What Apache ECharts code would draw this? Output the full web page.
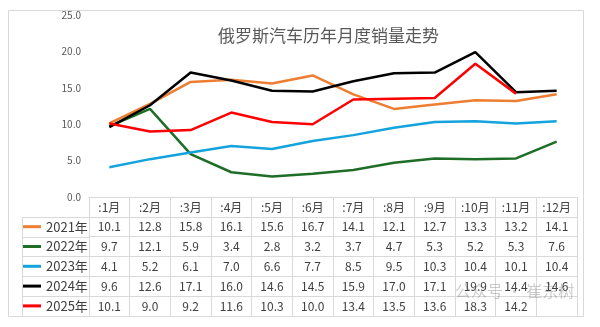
<!DOCTYPE html>
<html>
<head>
<meta charset="utf-8">
<script src="https://cdn.jsdelivr.net/npm/echarts@6/dist/echarts.min.js"></script>
<style>html,body{margin:0;padding:0;background:#fff}#c{width:600px;height:327px}</style>
</head>
<body>
<div id="c"></div>
<script>
var months = [':1月', ':2月', ':3月', ':4月', ':5月', ':6月', ':7月', ':8月', ':9月', ':10月', ':11月', ':12月'];
var seriesNames = ['2021年', '2022年', '2023年', '2024年', '2025年'];
var y2021 = [10.1, 12.8, 15.8, 16.1, 15.6, 16.7, 14.1, 12.1, 12.7, 13.3, 13.2, 14.1];
var y2022 = [9.7, 12.1, 5.9, 3.4, 2.8, 3.2, 3.7, 4.7, 5.3, 5.2, 5.3, 7.6];
var y2023 = [4.1, 5.2, 6.1, 7.0, 6.6, 7.7, 8.5, 9.5, 10.3, 10.4, 10.1, 10.4];
var y2024 = [9.6, 12.6, 17.1, 16.0, 14.6, 14.5, 15.9, 17.0, 17.1, 19.9, 14.4, 14.6];
var y2025 = [10.1, 9.0, 9.2, 11.6, 10.3, 10.0, 13.4, 13.5, 13.6, 18.3, 14.2, null];
var colors = ['#ED7D31', '#1E6E27', '#14A3DC', '#000000', '#FF0000'];
var allData = [y2021, y2022, y2023, y2024, y2025];

var gridLeft = 89, gridRight = 23, gridTop = 15, gridBottom = 130;
var axisY = 327 - gridBottom;
var rowH = 19.8;
var lineColor = '#d9d9d9';
var textColor = '#404040';
var font = '"Noto Sans CJK SC", "Noto Sans", sans-serif';

var chart = echarts.init(document.getElementById('c'), null, {renderer: 'canvas'});

var xAxes = [{
  type: 'category', data: months, gridIndex: 0, position: 'bottom',
  axisLine: {show: true, lineStyle: {color: lineColor, width: 1}},
  axisTick: {show: true, interval: 0, length: rowH * 6, lineStyle: {color: lineColor, width: 1}},
  axisLabel: {interval: 0, margin: 4, fontSize: 12, color: textColor, fontFamily: font}
}];
allData.forEach(function (arr, k) {
  xAxes.push({
    type: 'category', data: months, gridIndex: 0, position: 'bottom', offset: rowH * (k + 1),
    axisLine: {show: true, lineStyle: {color: lineColor, width: 1}},
    axisTick: {show: false},
    axisLabel: {interval: 0, margin: 4, fontSize: 12, color: textColor, fontFamily: font,
      formatter: function (v, i) { return arr[i] == null ? '' : arr[i].toFixed(1); }}
  });
});
xAxes.push({
  type: 'category', data: months, gridIndex: 0, position: 'bottom', offset: rowH * 6,
  axisLine: {show: true, lineStyle: {color: lineColor, width: 1}},
  axisTick: {show: false}, axisLabel: {show: false}
});

var legends = seriesNames.map(function (n, k) {
  return {
    data: [n], orient: 'horizontal', left: 23, top: axisY + rowH * (k + 1), padding: 0,
    icon: 'rect', itemWidth: 18, itemHeight: 3, selectedMode: false,
    textStyle: {fontSize: 13, color: textColor, fontFamily: font, lineHeight: rowH, height: rowH}
  };
});

var tableLeft = 22;
var graphics = [{
  type: 'rect', shape: {x: 8.5, y: 10.5, width: 575, height: 306},
  style: {fill: null, stroke: lineColor, lineWidth: 1}, silent: true, z: -1
}, {
  type: 'line', shape: {x1: tableLeft + 0.5, y1: axisY + rowH, x2: tableLeft + 0.5, y2: axisY + rowH * 6},
  style: {stroke: lineColor, lineWidth: 1}, silent: true
}];
for (var r = 1; r <= 6; r++) {
  var yy = Math.round(axisY + rowH * r) + 0.5;
  graphics.push({
    type: 'line', shape: {x1: tableLeft, y1: yy, x2: gridLeft, y2: yy},
    style: {stroke: lineColor, lineWidth: 1}, silent: true
  });
}
graphics.push({
  type: 'text', left: 455, top: 283,
  style: {text: '公众号 · 崔东树', fontSize: 16, fill: 'rgba(110,110,110,0.35)', fontFamily: font},
  silent: true, z: 100
});

chart.setOption({
  backgroundColor: '#ffffff',
  animation: false,
  color: colors,
  title: {
    text: '俄罗斯汽车历年月度销量走势', left: 213, top: 22,
    textStyle: {fontSize: 17, fontWeight: 'normal', color: '#595959', fontFamily: font}
  },
  legend: legends,
  grid: {left: gridLeft, right: gridRight, top: gridTop, bottom: gridBottom, containLabel: false, outerBoundsMode: 'none'},
  xAxis: xAxes,
  yAxis: {
    type: 'value', min: 0, max: 25, interval: 5,
    axisLine: {show: false}, axisTick: {show: false}, splitLine: {show: false},
    axisLabel: {margin: 8, fontSize: 10, color: '#595959', fontFamily: font,
      formatter: function (v) { return v.toFixed(1); }}
  },
  graphic: graphics,
  series: seriesNames.map(function (n, k) {
    return {
      name: n, type: 'line', data: allData[k], xAxisIndex: 0, yAxisIndex: 0,
      symbol: 'none', lineStyle: {width: 2.5, color: colors[k]}, itemStyle: {color: colors[k]},
      connectNulls: false
    };
  })
});
</script>
</body>
</html>
